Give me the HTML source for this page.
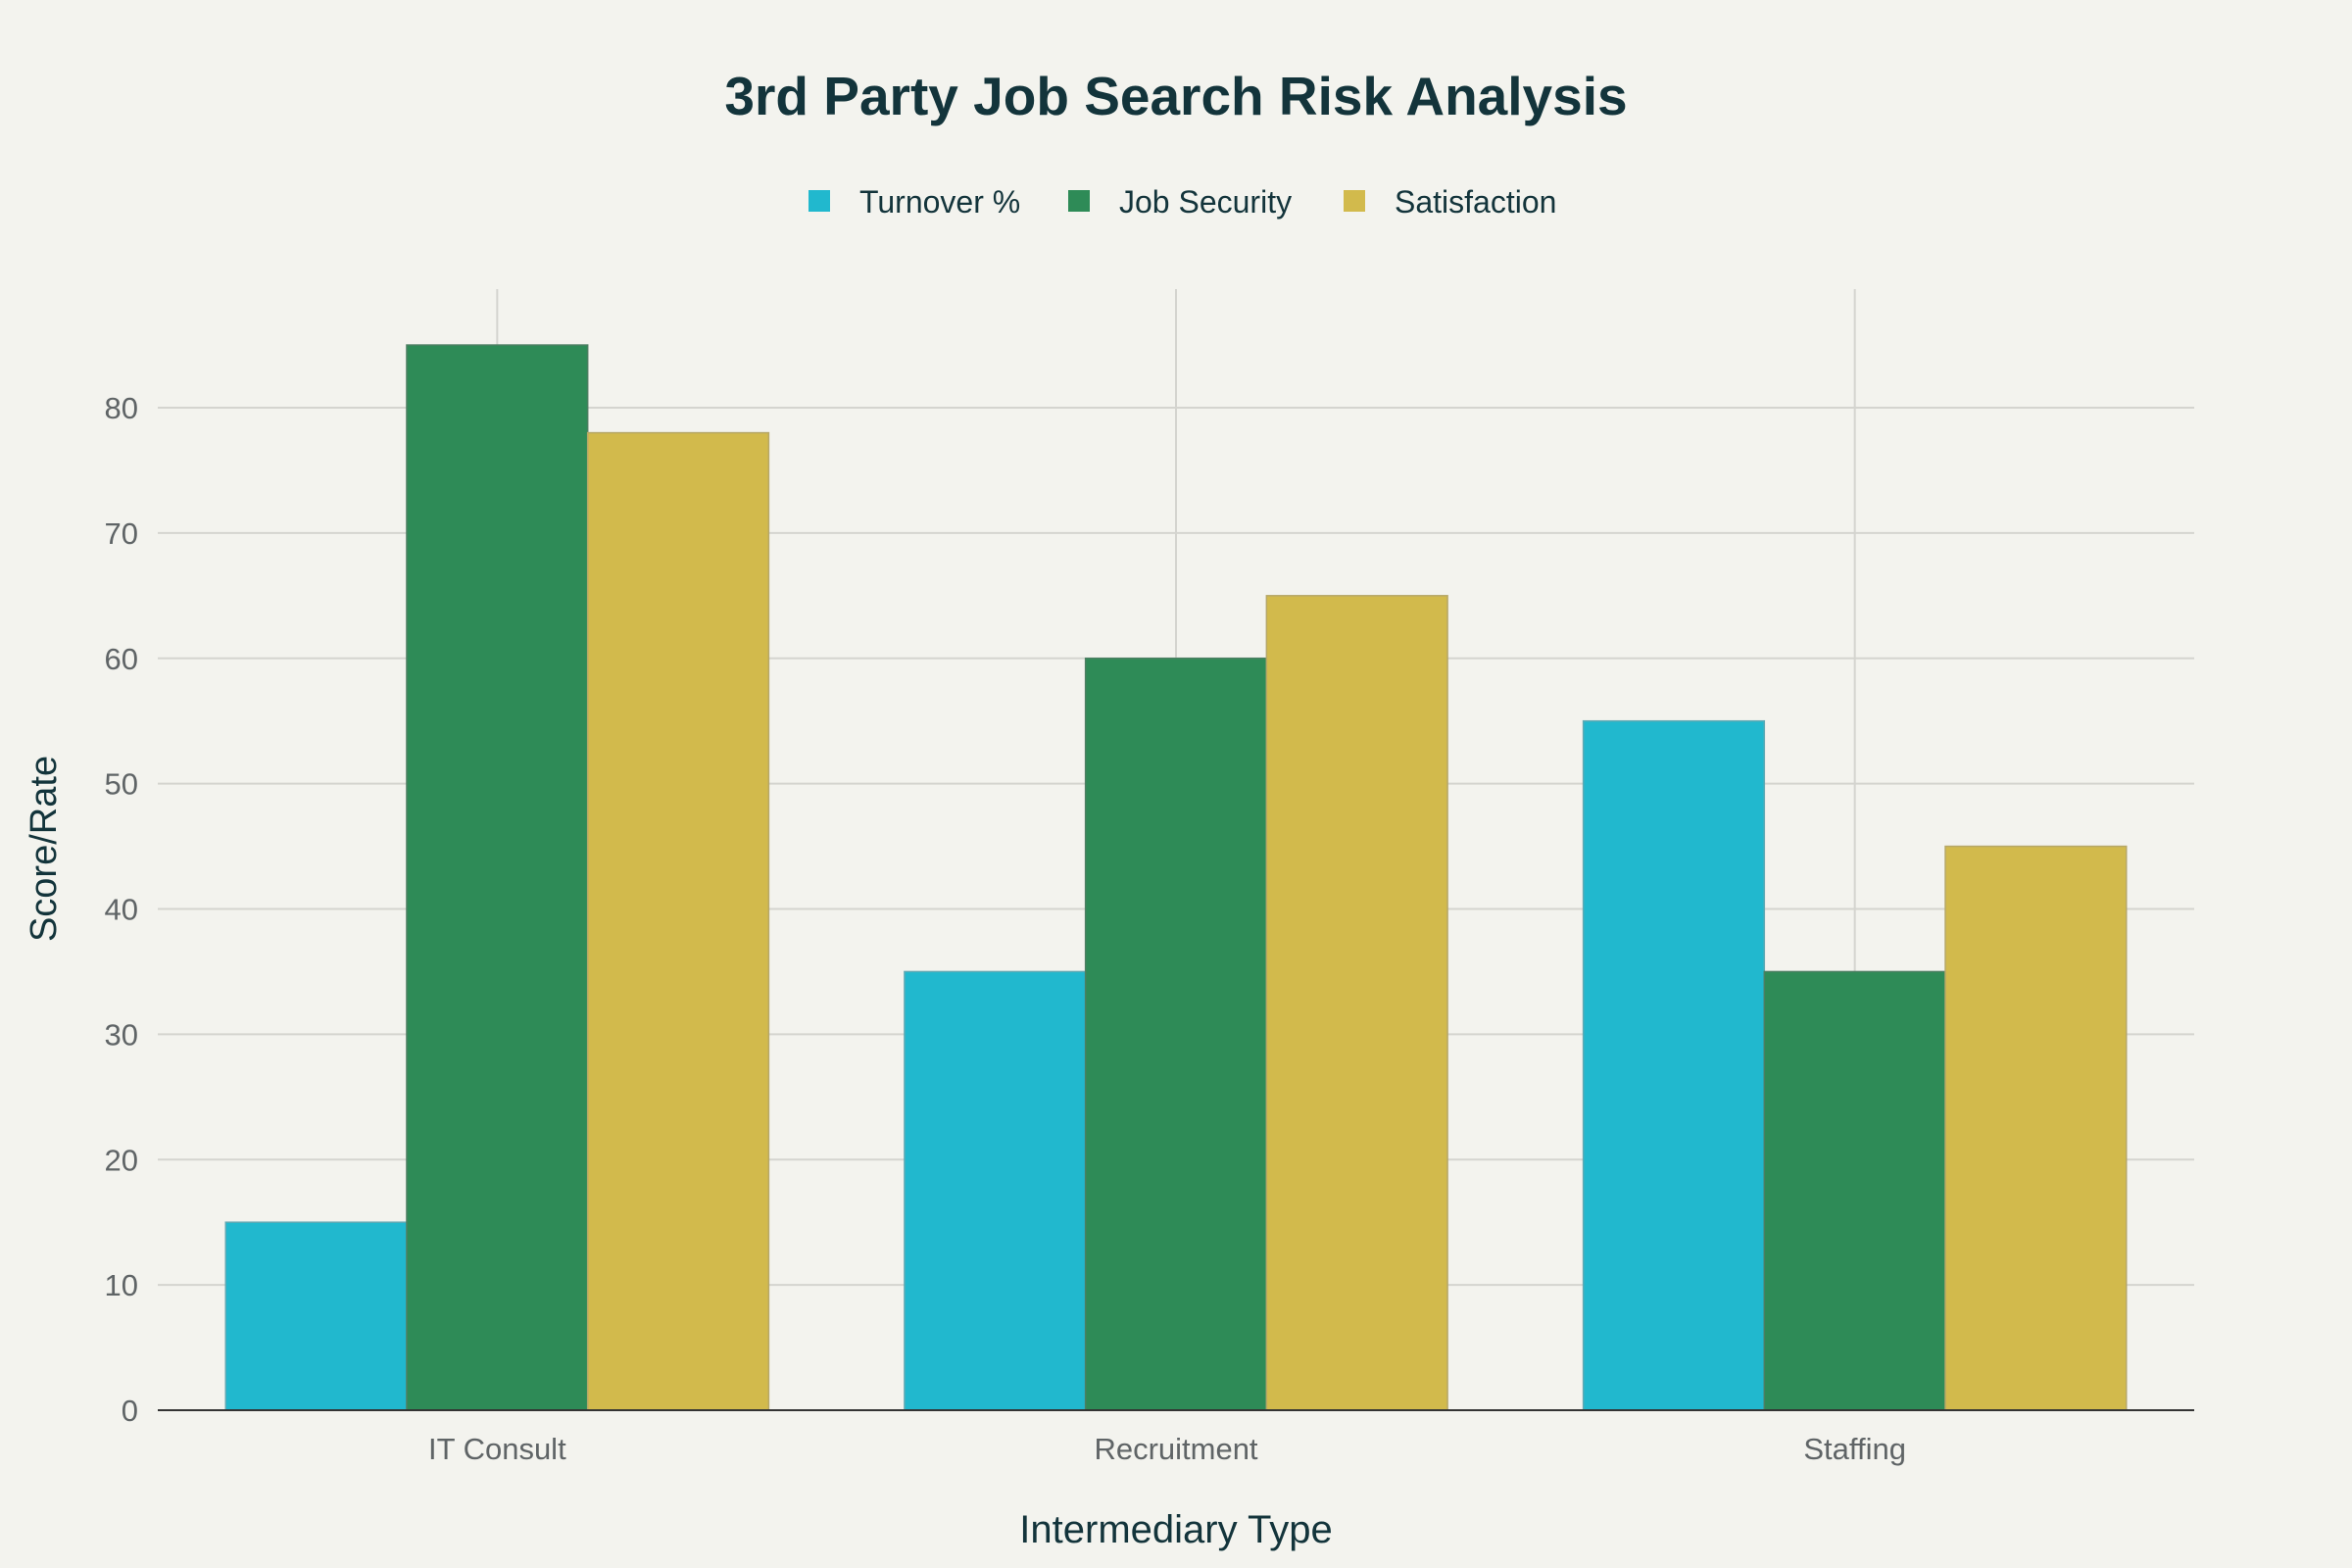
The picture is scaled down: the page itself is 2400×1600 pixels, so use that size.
<!DOCTYPE html>
<html><head><meta charset="utf-8"><style>
html,body{margin:0;padding:0;background:#F3F3EE;}
svg{display:block;font-family:"Liberation Sans",sans-serif;}
</style></head><body>
<svg id="chart" width="2400" height="1600" viewBox="0 0 2400 1600">
<rect width="2400" height="1600" fill="#F3F3EE"/>
<text x="1200" y="117" text-anchor="middle" font-size="55" font-weight="bold" fill="#13343B">3rd Party Job Search Risk Analysis</text>
<g id="legend"></g>
<g id="grid"></g>
<g id="bars"></g>
<g id="axes"></g>
<text x="1200" y="1574" text-anchor="middle" font-size="40" fill="#13343B">Intermediary Type</text>
<text transform="translate(57,866) rotate(-90)" text-anchor="middle" font-size="38" fill="#13343B">Score/Rate</text>
</svg>
<script>
const categories = ["IT Consult", "Recruitment", "Staffing"];
const seriesNames = ["Turnover %", "Job Security", "Satisfaction"];
const turnover = [15, 35, 55];
const jobSecurity = [85, 60, 35];
const satisfaction = [78, 65, 45];
const yTicks = [0, 10, 20, 30, 40, 50, 60, 70, 80];

const colors = ["#21B8CE", "#2E8B57", "#D2BA4C"];
const strokes = ["#5fa9b4", "#4c7f62", "#b6a768"];
const NS = "http://www.w3.org/2000/svg";
const plotLeft = 161, plotRight = 2239, plotTop = 295, y0px = 1439;
const pxPer = (1439 - 416) / 80;
const yScale = v => y0px - v * pxPer;
const catW = (plotRight - plotLeft) / categories.length;
const xScale = i => plotLeft + catW * (i + 0.5);
const barW = catW * 0.8 / 3;
function mk(tag, attrs, parent) {
  const e = document.createElementNS(NS, tag);
  for (const k in attrs) e.setAttribute(k, attrs[k]);
  parent.appendChild(e);
  return e;
}
const gridG = document.getElementById('grid');
const axesG = document.getElementById('axes');
const barsG = document.getElementById('bars');
const legendG = document.getElementById('legend');

yTicks.forEach(t => {
  if (t > 0) {
    const l = mk('line', {x1: plotLeft, x2: plotRight, y1: yScale(t), y2: yScale(t), stroke: '#d4d4cf', 'stroke-width': 2}, gridG);
    
    
  }
  const tx = mk('text', {x: plotLeft - 20, y: yScale(t) + 11, 'text-anchor': 'end', 'font-size': 31, fill: '#5f6466'}, axesG);
  tx.textContent = t;
  
  
});
categories.forEach((c, i) => {
  const l = mk('line', {x1: xScale(i), x2: xScale(i), y1: plotTop, y2: y0px, stroke: '#d4d4cf', 'stroke-width': 2}, gridG);
  
  
  const tx = mk('text', {x: xScale(i), y: y0px + 50, 'text-anchor': 'middle', 'font-size': 31, fill: '#5f6466'}, axesG);
  tx.textContent = c;
  
  
});
const series = [turnover, jobSecurity, satisfaction];
series.forEach((vals, s) => {
  vals.forEach((v, i) => {
    const bx = xScale(i) - 1.5 * barW + s * barW;
    const r = mk('rect', {x: bx, y: yScale(v), width: barW, height: y0px - yScale(v), fill: colors[s], stroke: strokes[s], 'stroke-width': 1.5}, barsG);
    
    
  });
});
const al = mk('line', {x1: plotLeft, x2: plotRight, y1: y0px, y2: y0px, stroke: '#333', 'stroke-width': 2}, axesG);



const legX = [825, 1090, 1371];
seriesNames.forEach((n, s) => {
  const r = mk('rect', {x: legX[s], y: 194, width: 22, height: 22, fill: colors[s]}, legendG);
  
  
  const t = mk('text', {x: legX[s] + 52, y: 217, 'font-size': 32, fill: '#13343B'}, legendG);
  t.textContent = n;
  
  
});
</script>
</body></html>
